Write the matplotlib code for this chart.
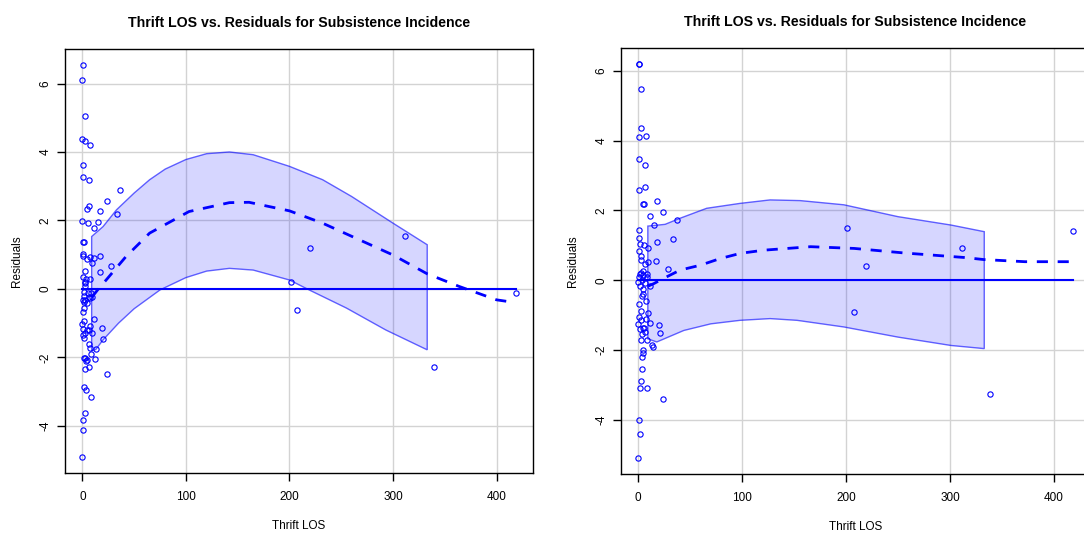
import numpy as np
import matplotlib
matplotlib.use("Agg")
import matplotlib.pyplot as plt

plt.rcParams['font.family'] = ['Liberation Sans', 'DejaVu Sans']

# ---- left panel data ----
left_x = [0.7, 0, 2.2, 0, 2.6, 7, 0.7, 0.7, 6, 36.7, 23.5, 6, 4.2, 17.4, 33.5, 0, 5.2, 15.1, 11.3,
          1, 1.5, 0.7, 0.7, 4.2, 7, 11.3, 17.4, 9, 2.2, 16.7, 28, 0.7, 3.5, 7.7, 2.9, 2.2,
          2.9, 1.9, 5.2, 8.4, 1.3, 6, 0.3, 2.9, 7.4, 1.3, 4.2, 9.4, 1.3, 0.3, 11, 1.3, 0, 7.7,
          0.3, 4.2, 6, 19, 2.6, 9, 1, 1.6, 20.3, 6, 7, 13.5, 8, 2.9, 1.6, 12.6, 4.5, 3.5, 6.8,
          2.9, 23.5, 1.6, 3.5, 8, 2.6, 1, 0.7, 0,
          312, 219.6, 201, 207.4, 339.4, 418.4]
left_y = [6.55, 6.1, 5.06, 4.38, 4.33, 4.21, 3.63, 3.28, 3.18, 2.88, 2.56, 2.42, 2.33, 2.27, 2.19, 1.98, 1.93, 1.95, 1.77,
          1.37, 1.37, 1.02, 0.95, 0.88, 0.92, 0.89, 0.97, 0.76, 0.53, 0.5, 0.67, 0.35, 0.3, 0.3, 0.2, 0.07,
          0.18, -0.08, -0.11, -0.13, -0.2, -0.23, -0.32, -0.32, -0.27, -0.37, -0.4, -0.24, -0.55, -0.67, -0.87, -0.94, -1.03, -1.07,
          -1.18, -1.2, -1.2, -1.15, -1.3, -1.3, -1.34, -1.44, -1.47, -1.6, -1.72, -1.77, -1.9, -2.02, -2.02, -2.06, -2.08, -2.1, -2.29,
          -2.35, -2.49, -2.86, -2.96, -3.17, -3.64, -3.84, -4.13, -4.92,
          1.55, 1.19, 0.21, -0.63, -2.28, -0.13]

left_up_x = [9, 20, 33, 50, 65, 80, 100, 120, 142, 165, 200, 232, 260, 300, 333]
left_up_y = [1.53, 1.82, 2.31, 2.8, 3.19, 3.5, 3.78, 3.95, 4.0, 3.92, 3.58, 3.19, 2.7, 1.92, 1.29]
left_lo_x = [9, 13, 20, 35, 50, 75, 100, 120, 142, 165, 200, 219, 255, 293, 333]
left_lo_y = [-1.81, -1.77, -1.49, -1.0, -0.58, -0.03, 0.33, 0.52, 0.6, 0.55, 0.26, -0.03, -0.56, -1.2, -1.78]
left_fit_x = [9, 15, 23, 42, 65, 103, 142, 161, 200, 232, 300, 333, 364, 400, 418]
left_fit_y = [-0.25, -0.02, 0.26, 0.94, 1.63, 2.26, 2.52, 2.53, 2.28, 1.92, 0.99, 0.44, 0.07, -0.32, -0.4]

# ---- right panel data ----
right_x = [1, 1.3, 3.2, 3.2, 0.7, 8, 1.3, 7, 7, 1.3, 5.1, 6, 18.3, 24.4, 11.9, 37.6, 15.7, 0.7, 1.3,
           2.2, 5.5, 18.3, 34, 0.7, 3.2, 3.2, 9.4, 9.4, 17.4, 7, 28.7, 2.9,
           4.8, 8.5, 0.5, 1.9, 5.1, 8.2, 0.4, 3.5, 6.7, 11.6, 1.9, 4.5, 5.1, 3.5, 7.4, 1.3, 2.9, 9.4,
           1, 7.7, 2.6, 11.6, 20, 0.4, 4.5, 6, 2.3, 20.9, 6.3, 3.5, 2.9, 9, 13.2, 14.2, 4.5, 4.5,
           4.2, 4.2, 3.2, 2.2, 8.7, 24.4, 1.3, 1.6, 0.3,
           201, 311.8, 219.4, 207.5, 339, 418]
right_y = [6.2, 6.2, 5.47, 4.35, 4.11, 4.14, 3.47, 3.3, 2.67, 2.57, 2.18, 2.18, 2.28, 1.95, 1.84, 1.72, 1.57, 1.44, 1.2,
           1.03, 1.0, 1.1, 1.18, 0.85, 0.69, 0.57, 0.91, 0.52, 0.56, 0.46, 0.31, 0.21,
           0.25, 0.08, 0.1, 0.19, 0.15, 0.17, -0.05, 0.0, -0.07, -0.17, -0.17, -0.24, -0.4, -0.46, -0.6, -0.69, -0.89, -0.94,
           -1.05, -1.1, -1.13, -1.23, -1.27, -1.25, -1.36, -1.36, -1.41, -1.51, -1.49, -1.53, -1.7, -1.7, -1.87, -1.92, -1.99, -2.09,
           -2.2, -2.54, -2.9, -3.08, -3.08, -3.39, -4.0, -4.42, -5.1,
           1.49, 0.91, 0.42, -0.92, -3.27, 1.41]

right_up_x = [9.4, 26, 40, 66, 98, 127, 156, 198, 250, 301, 333]
right_up_y = [1.55, 1.6, 1.77, 2.06, 2.2, 2.3, 2.28, 2.16, 1.82, 1.58, 1.39]
right_lo_x = [9.4, 18, 44, 70, 98, 127, 153, 198, 250, 301, 333]
right_lo_y = [-1.68, -1.77, -1.44, -1.25, -1.15, -1.1, -1.15, -1.34, -1.63, -1.87, -1.96]
right_fit_x = [9.6, 15, 24.4, 40.5, 60, 79, 98.5, 121, 166, 208, 256, 314, 333, 372, 418]
right_fit_y = [-0.17, -0.1, 0.05, 0.29, 0.43, 0.62, 0.77, 0.86, 0.96, 0.91, 0.78, 0.65, 0.59, 0.53, 0.53]

title = "Thrift LOS vs. Residuals for Subsistence Incidence"
xticks = [0, 100, 200, 300, 400]
yticks = [-4, -2, 0, 2, 4, 6]

fig = plt.figure(figsize=(10.84, 5.34), dpi=100)
ax1 = fig.add_axes([65 / 1084, 1 - 473 / 534, 468 / 1084, 424 / 534])
ax2 = fig.add_axes([621 / 1084, 1 - 474 / 534, 469 / 1084, 426 / 534])

panels = [
    (ax1, left_x, left_y, left_up_x, left_up_y, left_lo_x, left_lo_y, left_fit_x, left_fit_y),
    (ax2, right_x, right_y, right_up_x, right_up_y, right_lo_x, right_lo_y, right_fit_x, right_fit_y),
]

for ax, px, py, ux, uy, lx, ly, fx, fy in panels:
    # confidence band polygon
    bx = np.concatenate([ux, lx[::-1]])
    by = np.concatenate([uy, ly[::-1]])
    ax.fill(bx, by, facecolor=(0, 0, 1, 0.16), edgecolor=(0, 0, 1, 0.6), lw=1, zorder=2)
    ax.plot([min(px), max(px)], [0, 0], color='blue', lw=1.5, zorder=3)
    ax.plot(fx, fy, color='blue', lw=2, dashes=(4, 3.5), zorder=3)
    ax.plot(px, py, 'o', mfc='none', mec='blue', ms=3.8, mew=0.8, zorder=4)

    xr = max(px) - min(px)
    yr = max(py) - min(py)
    ax.set_xlim(min(px) - 0.04 * xr, max(px) + 0.04 * xr)
    ax.set_ylim(min(py) - 0.04 * yr, max(py) + 0.04 * yr)
    ax.set_xticks(xticks)
    ax.set_yticks(yticks)
    ax.set_yticklabels([str(t) for t in yticks], rotation=90, va='center')
    ax.grid(True, color='#d3d3d3', lw=1)
    ax.set_axisbelow(True)
    ax.tick_params(direction='out', length=6, width=1, labelsize=8.5)
    ax.tick_params(axis='x', pad=7)
    ax.tick_params(axis='y', pad=3.5)
    for s in ax.spines.values():
        s.set_linewidth(1)
    ax.set_xlabel("Thrift LOS", fontsize=8.5, labelpad=12)
    ax.set_ylabel("Residuals", fontsize=8.5, labelpad=12)
    ax.set_title(title, fontsize=10.2, fontweight='bold', pad=16)

fig.savefig("out.png", dpi=100)
